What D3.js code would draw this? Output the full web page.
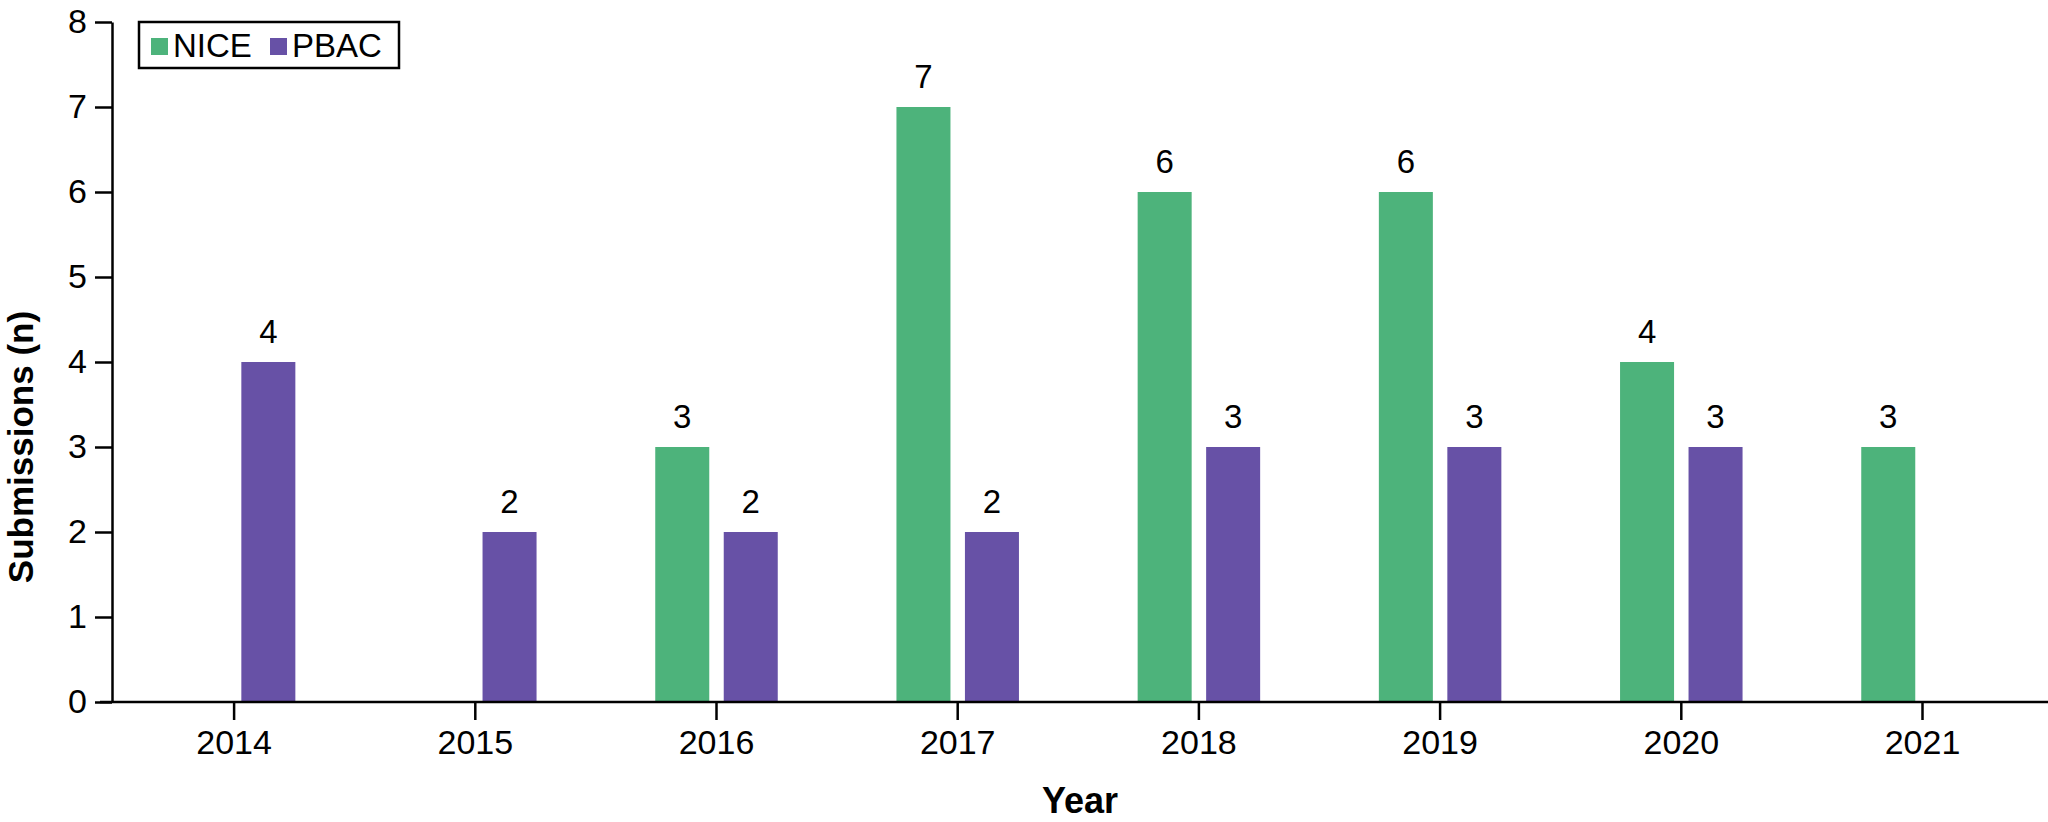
<!DOCTYPE html>
<html>
<head>
<meta charset="utf-8">
<script src="https://cdn.jsdelivr.net/npm/d3@7"></script>
<style>
  html, body { margin: 0; padding: 0; background: #fff; }
  svg { display: block; }
  text { font-family: "Liberation Sans", Arial, Helvetica, sans-serif; fill: #000; }
</style>
</head>
<body>
<script>
const years = ["2014", "2015", "2016", "2017", "2018", "2019", "2020", "2021"];
const seriesNames = ["NICE", "PBAC"];
const niceValues = [0, 0, 3, 7, 6, 6, 4, 3];
const pbacValues = [4, 2, 2, 2, 3, 3, 3, 0];
const yTicks = [0, 1, 2, 3, 4, 5, 6, 7, 8];
const colors = { NICE: "#4db37b", PBAC: "#6751a6" };

const W = 2048, H = 822;
const svg = d3.select("body").append("svg").attr("width", W).attr("height", H);

const y = d3.scaleLinear().domain([0, 8]).range([702, 22]);
const x = d3.scaleBand().domain(years).range([113.5, 113.5 + 8 * 241.2]).padding(0);
const half = 61.25;
const xs = d3.scaleBand().domain(seriesNames).range([-half, half]).paddingInner(0.2114).paddingOuter(0);

const data = [];
years.forEach((yr, i) => {
  data.push({ year: yr, series: "NICE", value: niceValues[i] });
  data.push({ year: yr, series: "PBAC", value: pbacValues[i] });
});
const center = d => x(d) + x.bandwidth() / 2;

// bars
svg.append("g").selectAll("rect")
  .data(data.filter(d => d.value > 0))
  .join("rect")
  .attr("x", d => center(d.year) + xs(d.series))
  .attr("width", xs.bandwidth())
  .attr("y", d => y(d.value))
  .attr("height", d => y(0) - y(d.value))
  .attr("fill", d => colors[d.series]);

// value labels
svg.append("g").selectAll("text")
  .data(data.filter(d => d.value > 0))
  .join("text")
  .attr("x", d => center(d.year) + xs(d.series) + xs.bandwidth() / 2)
  .attr("y", d => y(d.value) - 19)
  .attr("text-anchor", "middle")
  .style("font-size", "33px")
  .text(d => d.value);

// y axis
const yAxis = svg.append("g")
  .attr("transform", "translate(112,0)")
  .call(d3.axisLeft(y).tickValues(yTicks).tickSize(17).tickSizeOuter(0).tickPadding(8));
yAxis.select(".domain").attr("stroke", "#000").attr("stroke-width", 2.5);
yAxis.selectAll(".tick line").attr("stroke", "#000").attr("stroke-width", 2.5);
yAxis.selectAll(".tick text").style("font-size", "34px").attr("font-family", null);

// x axis
const xAxis = svg.append("g")
  .attr("transform", "translate(0,702)")
  .call(d3.axisBottom(x).tickSize(18).tickSizeOuter(0).tickPadding(10));
xAxis.select(".domain").remove();
xAxis.selectAll(".tick line").attr("stroke", "#000").attr("stroke-width", 2.5);
xAxis.selectAll(".tick text").style("font-size", "34px").attr("font-family", null);
svg.append("line")
  .attr("x1", 100).attr("x2", W)
  .attr("y1", y(0)).attr("y2", y(0))
  .attr("stroke", "#000").attr("stroke-width", 2.5);

// axis titles
svg.append("text")
  .attr("transform", "translate(33,447) rotate(-90)")
  .attr("text-anchor", "middle")
  .style("font-size", "35px").style("font-weight", "bold")
  .text("Submissions (n)");
svg.append("text")
  .attr("x", 1080).attr("y", 813)
  .attr("text-anchor", "middle")
  .style("font-size", "36px").style("font-weight", "bold")
  .text("Year");

// legend
const lg = svg.append("g");
lg.append("rect").attr("x", 139).attr("y", 22).attr("width", 260).attr("height", 46)
  .attr("fill", "#fff").attr("stroke", "#000").attr("stroke-width", 2.5);
const legendX = { NICE: 151, PBAC: 270 };
seriesNames.forEach(s => {
  lg.append("rect").attr("x", legendX[s]).attr("y", 38).attr("width", 17).attr("height", 17).attr("fill", colors[s]);
  lg.append("text").attr("x", legendX[s] + 22).attr("y", 57).style("font-size", "33px").text(s);
});
</script>
</body>
</html>
